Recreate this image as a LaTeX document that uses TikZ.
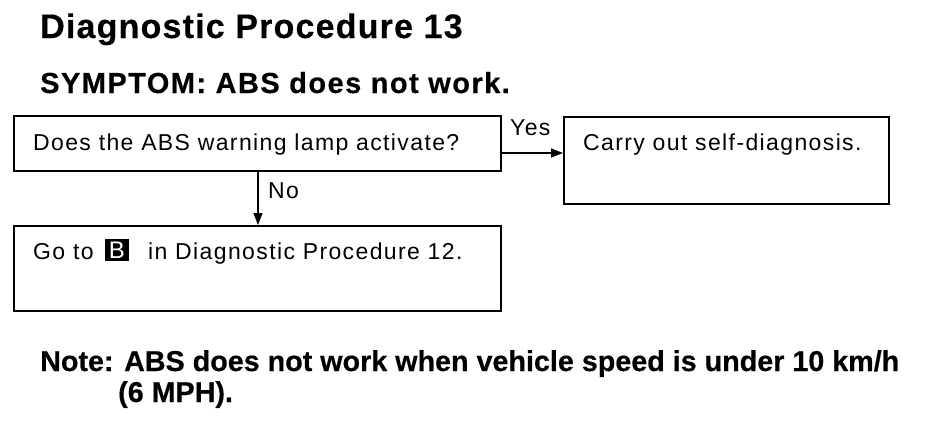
\documentclass[tikz,border=0pt]{standalone}
\usepackage{fontspec}
\setmainfont{Liberation Sans}
\usetikzlibrary{arrows.meta}
\newcommand\boxfont{\fontsize{23}{24}\selectfont\addfontfeature{LetterSpace=6}}
\newcommand\headfont[2]{\fontsize{#1}{#1}\selectfont\bfseries\addfontfeature{LetterSpace=#2,FakeBold=0.4}}
\tikzset{
  box/.style={draw,line width=1.6pt,anchor=north west,inner sep=0pt},
  txt/.style={anchor=base west,inner sep=0pt,font=\boxfont},
  head/.style={anchor=base west,inner sep=0pt},
  flow/.style={line width=1.4pt,-{Triangle[length=12pt,width=9pt]}}
}
\begin{document}
\begin{tikzpicture}[x=1pt,y=-1pt]
\useasboundingbox (0,0) rectangle (928,428);
% headings
\node[head,font=\headfont{34}{3.5}] (title) at (40,38) {Diagnostic Procedure 13};
\node[head,font=\headfont{29}{5}] (symptom) at (40,93) {SYMPTOM: ABS does not work.};
% boxes
\node[box,minimum width=487pt,minimum height=55pt] (q) at (13,115) {};
\node[box,minimum width=325pt,minimum height=87pt] (diag) at (563,116) {};
\node[box,minimum width=487pt,minimum height=85pt] (goto) at (13,225) {};
\node[txt] (qt) at (33,150) {Does the ABS warning lamp activate?};
\node[txt] (diagt) at (583,150) {Carry out self-diagnosis.};
\node[txt] (gotoa) at (33,259) {Go to};
\node[fill=black,text=white,minimum width=24pt,minimum height=22pt,inner sep=0pt,font=\fontsize{24}{24}\selectfont] (bref) at (117,250) {B};
\node[txt] (gotob) at (148,259) {in Diagnostic Procedure 12.};
% connectors
\coordinate (yes) at (0,153);
\coordinate (no) at (258,0);
\draw[flow] (q.east|-yes) -- (diag.west|-yes);
\draw[flow] (q.south-|no) -- (goto.north-|no);
\node[txt] (yest) at (510,135) {Yes};
\node[txt] (not) at (268,198) {No};
% note
\node[head,font=\headfont{28.7}{0}] (note) at (40,371) {Note: ABS does not work when vehicle speed is under 10 km/h};
\node[head,font=\headfont{28.7}{0}] (note2) at (118,402) {(6 MPH).};
\end{tikzpicture}
\end{document}
